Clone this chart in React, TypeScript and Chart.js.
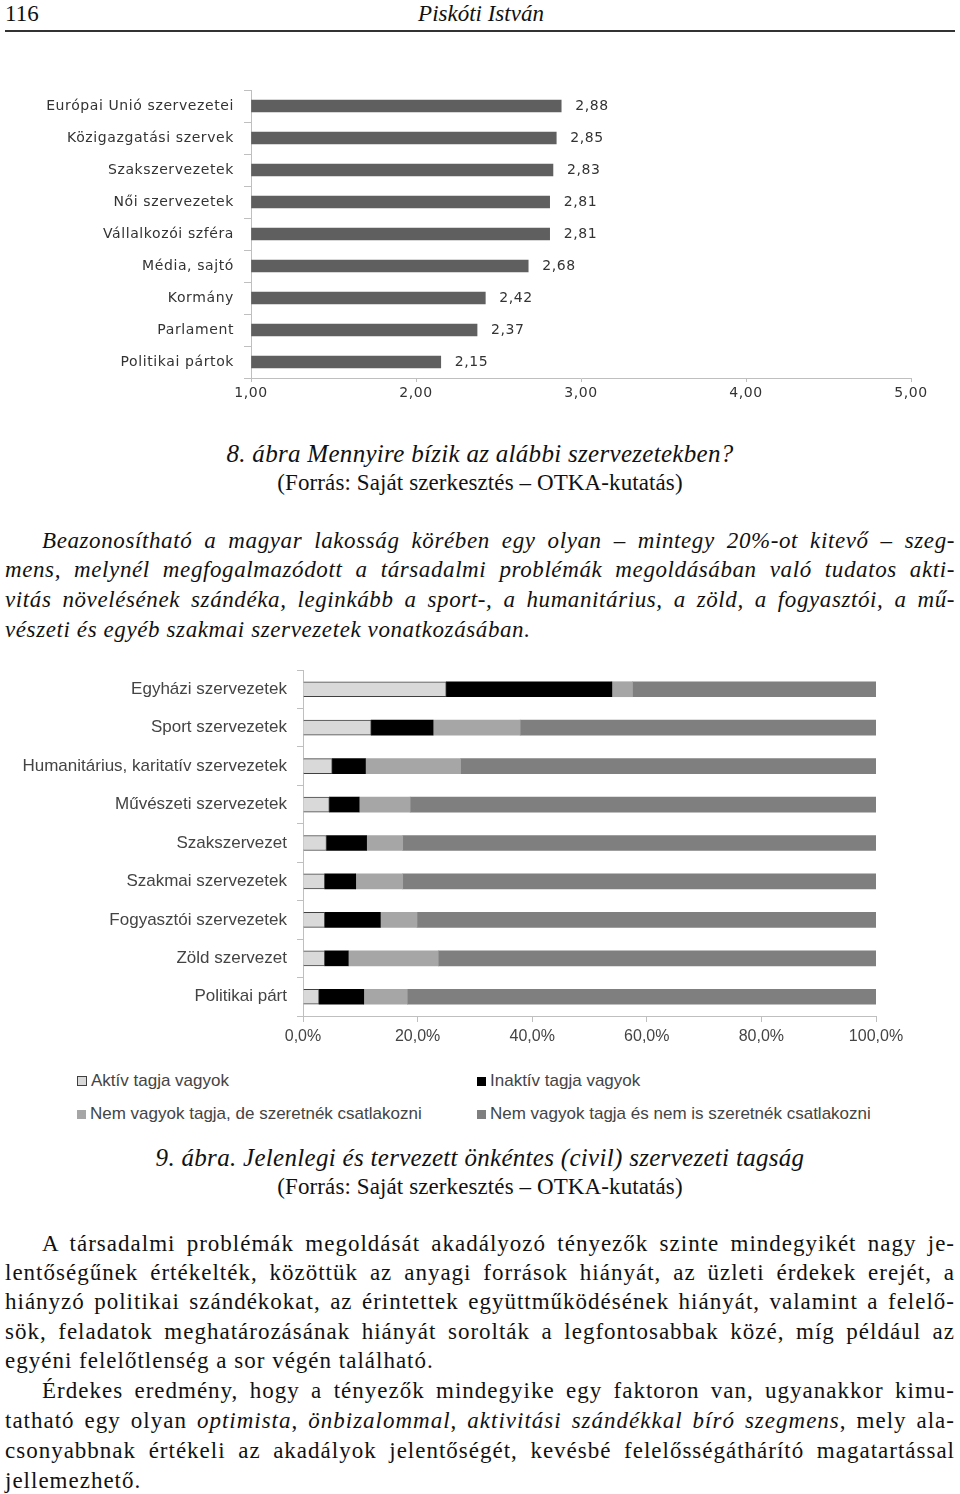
import React, { useEffect, useRef } from "react";
import { Chart, registerables } from "chart.js";

Chart.register(...registerables);

// ---------- Chart 1 data ----------
const trustLabels = [
  "Európai Unió szervezetei",
  "Közigazgatási szervek",
  "Szakszervezetek",
  "Női szervezetek",
  "Vállalkozói szféra",
  "Média, sajtó",
  "Kormány",
  "Parlament",
  "Politikai pártok",
];
const trustValues = [2.88, 2.85, 2.83, 2.81, 2.81, 2.68, 2.42, 2.37, 2.15];
const trustMin = 1;
const trustMax = 5;

// ---------- Chart 2 data ----------
const orgLabels = [
  "Egyházi szervezetek",
  "Sport szervezetek",
  "Humanitárius, karitatív szervezetek",
  "Művészeti szervezetek",
  "Szakszervezet",
  "Szakmai szervezetek",
  "Fogyasztói szervezetek",
  "Zöld szervezet",
  "Politikai párt",
];
const seriesNames = [
  "Aktív tagja vagyok",
  "Inaktív tagja vagyok",
  "Nem vagyok tagja, de szeretnék csatlakozni",
  "Nem vagyok tagja és nem is szeretnék csatlakozni",
];
const activeValues = [25.0, 11.9, 5.1, 4.6, 4.1, 3.8, 3.8, 3.8, 2.8];
const inactiveValues = [28.9, 10.8, 5.8, 5.2, 7.0, 5.4, 9.7, 4.1, 7.8];
const wouldJoinValues = [3.6, 15.2, 16.6, 8.9, 6.3, 8.2, 6.4, 15.7, 7.6];
const wouldNotJoinValues = [42.5, 62.1, 72.5, 81.3, 82.6, 82.6, 80.1, 76.4, 81.8];
const seriesColors = ["#d9d9d9", "#000000", "#a6a6a6", "#7f7f7f"];

const comma = (v: number, d: number) => v.toFixed(d).replace(".", ",");

function ChartBox({ left, top, width, height, build }: any) {
  const ref = useRef<HTMLCanvasElement | null>(null);
  useEffect(() => {
    const c = new Chart(ref.current as HTMLCanvasElement, build());
    return () => c.destroy();
  }, []);
  return (
    <div style={{ position: "absolute", left, top, width, height }}>
      <canvas ref={ref} width={width} height={height} style={{ width, height, display: "block" }} />
    </div>
  );
}

const sans1 = "'DejaVu Sans', sans-serif";
const sans2 = "'Liberation Sans', Arial, sans-serif";

const spacingPlugin = (px: string) => ({
  id: "letterSpacing",
  beforeDraw(chart: any) {
    (chart.ctx as any).letterSpacing = px;
  },
});

function buildTrust() {
  const valueLabels = {
    id: "valueLabels",
    afterDatasetsDraw(chart: any) {
      const ctx = chart.ctx;
      const meta = chart.getDatasetMeta(0);
      ctx.save();
      ctx.font = `14px ${sans1}`;
      ctx.fillStyle = "#333";
      ctx.textBaseline = "middle";
      ctx.textAlign = "left";
      meta.data.forEach((bar: any, i: number) => {
        ctx.fillText(comma(trustValues[i], 2), bar.x + 14, bar.y);
      });
      ctx.restore();
    },
  };
  return {
    type: "bar",
    data: {
      labels: trustLabels,
      datasets: [
        {
          data: trustValues,
          backgroundColor: "#5f5f5f",
          barThickness: 12,
          base: trustMin,
        },
      ],
    },
    options: {
      indexAxis: "y",
      animation: false,
      responsive: false,
      layout: { padding: { right: 49, top: 0, bottom: 0, left: 0 } },
      plugins: { legend: { display: false }, tooltip: { enabled: false } },
      scales: {
        x: {
          min: trustMin,
          max: trustMax,
          ticks: {
            stepSize: 1,
            color: "#333",
            font: { family: sans1, size: 14 },
            padding: 3,
            callback: (v: any) => comma(Number(v), 2),
          },
          grid: { drawOnChartArea: false, color: "#bfbfbf", tickLength: 4 },
          border: { color: "#bfbfbf" },
          afterFit: (s: any) => {
            s.height = 32;
          },
        },
        y: {
          ticks: { color: "#333", font: { family: sans1, size: 14 }, padding: 10 },
          grid: { drawOnChartArea: false, color: "#bfbfbf", tickLength: 7, offset: true },
          border: { color: "#bfbfbf" },
          afterFit: (s: any) => {
            s.width = 251;
            s.paddingTop = 0;
            s.paddingBottom = 0;
          },
        },
      },
    },
    plugins: [spacingPlugin("0.6px"), valueLabels],
  };
}

function buildMembership() {
  const all = [activeValues, inactiveValues, wouldJoinValues, wouldNotJoinValues];
  return {
    type: "bar",
    data: {
      labels: orgLabels,
      datasets: all.map((vals, i) => ({
        label: seriesNames[i],
        data: vals,
        backgroundColor: seriesColors[i],
        borderColor: i === 0 ? "#404040" : seriesColors[i],
        borderWidth: i === 0 ? 1 : 0,
        barThickness: 15,
      })),
    },
    options: {
      indexAxis: "y",
      animation: false,
      responsive: false,
      layout: { padding: { right: 84, top: 0, bottom: 0, left: 0 } },
      plugins: { legend: { display: false }, tooltip: { enabled: false } },
      scales: {
        x: {
          stacked: true,
          min: 0,
          max: 100,
          ticks: {
            stepSize: 20,
            color: "#444",
            font: { family: sans2, size: 16 },
            padding: 5,
            callback: (v: any) => comma(Number(v), 1) + "%",
          },
          grid: { drawOnChartArea: false, color: "#bfbfbf", tickLength: 6 },
          border: { color: "#bfbfbf" },
          afterFit: (s: any) => {
            s.height = 36;
          },
        },
        y: {
          stacked: true,
          ticks: { color: "#444", font: { family: sans2, size: 17 }, padding: 10 },
          grid: { drawOnChartArea: false, color: "#bfbfbf", tickLength: 6, offset: true },
          border: { color: "#bfbfbf" },
          afterFit: (s: any) => {
            s.width = 303;
            s.paddingTop = 0;
            s.paddingBottom = 0;
          },
        },
      },
    },
  };
}

const serif = "'Liberation Serif', 'Times New Roman', serif";

function Line({ y, indent = 0, last = false, italic = false, children }: any) {
  return (
    <div
      style={{
        position: "absolute",
        left: 5 + indent,
        width: 950 - indent,
        top: y - 15,
        height: 30,
        lineHeight: "30px",
        fontSize: 23,
        letterSpacing: italic ? "0.6px" : "1px",
        fontFamily: serif,
        fontStyle: italic ? "italic" : "normal",
        textAlign: "justify",
        textAlignLast: last ? "left" : "justify",
        color: "#111",
      }}
    >
      {children}
    </div>
  );
}

function Center({ y, italic = false, children }: any) {
  return (
    <div
      style={{
        position: "absolute",
        left: 0,
        width: 960,
        top: y - 15,
        height: 30,
        lineHeight: "30px",
        fontSize: italic ? 25 : 23,
        letterSpacing: italic ? "0.3px" : "0.1px",
        fontFamily: serif,
        fontStyle: italic ? "italic" : "normal",
        textAlign: "center",
        color: "#111",
      }}
    >
      {children}
    </div>
  );
}

function Legend() {
  const pos = [
    { x: 77, y: 1081 },
    { x: 477, y: 1081 },
    { x: 77, y: 1114 },
    { x: 477, y: 1114 },
  ];
  return (
    <>
      {seriesNames.map((n, i) => (
        <div
          key={n}
          style={{
            position: "absolute",
            left: pos[i].x,
            top: pos[i].y - 11,
            height: 22,
            lineHeight: "22px",
            fontFamily: sans2,
            fontSize: 17,
            color: "#444",
            whiteSpace: "nowrap",
            display: "flex",
            alignItems: "center",
          }}
        >
          <span
            style={{
              display: "inline-block",
              width: i === 0 ? 8 : 9,
              height: i === 0 ? 8 : 9,
              background: seriesColors[i],
              border: i === 0 ? "1px solid #404040" : "none",
              marginRight: 4,
            }}
          />
          {n}
        </div>
      ))}
    </>
  );
}

export default function App() {
  return (
    <div
      style={{
        position: "absolute",
        left: 0,
        top: 0,
        width: 960,
        height: 1494,
        background: "#fff",
        overflow: "hidden",
      }}
    >
      <div style={{ position: "absolute", left: 5, top: 0, height: 28, lineHeight: "28px", fontFamily: serif, fontSize: 23, color: "#111" }}>116</div>
      <div style={{ position: "absolute", left: 0, width: 962, top: 0, height: 28, lineHeight: "28px", fontFamily: serif, fontSize: 23, fontStyle: "italic", textAlign: "center", color: "#111" }}>Piskóti István</div>
      <div style={{ position: "absolute", left: 5, width: 950, top: 30, height: 2, background: "#333" }} />

      <ChartBox left={0} top={90} width={960} height={320} build={buildTrust} />

      <Center y={454} italic>8. ábra Mennyire bízik az alábbi szervezetekben?</Center>
      <Center y={483}>(Forrás: Saját szerkesztés – OTKA-kutatás)</Center>

      <Line y={541} indent={37} italic>Beazonosítható a magyar lakosság körében egy olyan – mintegy 20%-ot kitevő – szeg-</Line>
      <Line y={570} italic>mens, melynél megfogalmazódott a társadalmi problémák megoldásában való tudatos akti-</Line>
      <Line y={600} italic>vitás növelésének szándéka, leginkább a sport-, a humanitárius, a zöld, a fogyasztói, a mű-</Line>
      <Line y={630} italic last>vészeti és egyéb szakmai szervezetek vonatkozásában.</Line>

      <ChartBox left={0} top={670} width={960} height={382} build={buildMembership} />
      <Legend />

      <Center y={1158} italic>9. ábra. Jelenlegi és tervezett önkéntes (civil) szervezeti tagság</Center>
      <Center y={1187}>(Forrás: Saját szerkesztés – OTKA-kutatás)</Center>

      <Line y={1244} indent={37}>A társadalmi problémák megoldását akadályozó tényezők szinte mindegyikét nagy je-</Line>
      <Line y={1273}>lentőségűnek értékelték, közöttük az anyagi források hiányát, az üzleti érdekek erejét, a</Line>
      <Line y={1302}>hiányzó politikai szándékokat, az érintettek együttműködésének hiányát, valamint a felelő-</Line>
      <Line y={1332}>sök, feladatok meghatározásának hiányát sorolták a legfontosabbak közé, míg például az</Line>
      <Line y={1361} last>egyéni felelőtlenség a sor végén található.</Line>
      <Line y={1391} indent={37}>Érdekes eredmény, hogy a tényezők mindegyike egy faktoron van, ugyanakkor kimu-</Line>
      <Line y={1421}>tatható egy olyan <i>optimista</i>, <i>önbizalommal</i>, <i>aktivitási szándékkal bíró szegmens</i>, mely ala-</Line>
      <Line y={1451}>csonyabbnak értékeli az akadályok jelentőségét, kevésbé felelősségáthárító magatartással</Line>
      <Line y={1481} last>jellemezhető.</Line>
    </div>
  );
}
